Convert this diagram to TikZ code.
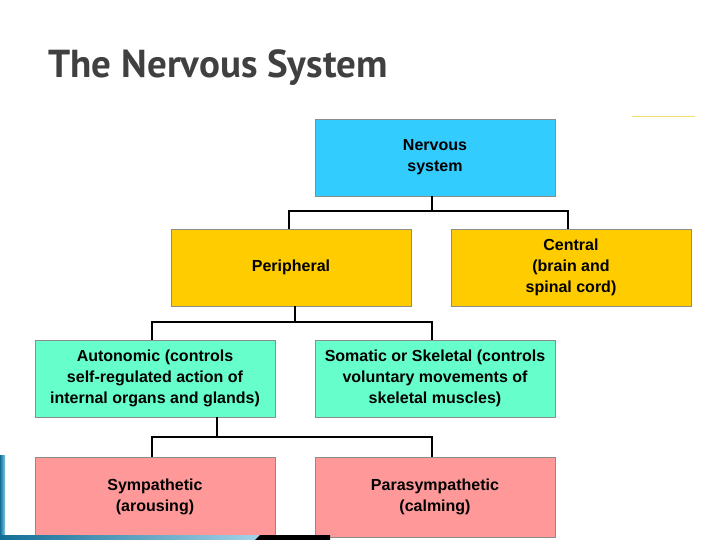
\documentclass[tikz,border=0pt]{standalone}
\usepackage{fontspec}
\setmainfont{Liberation Sans}
\newfontfamily\titlefont{PT Sans}
\begin{document}
\begin{tikzpicture}[x=1pt,y=-1pt,
 box/.style={draw=black!45,line width=0.6pt,minimum width=240pt,minimum height=77pt,align=center,font=\bfseries\fontsize{16}{21}\selectfont,inner sep=1pt},
 conn/.style={line width=2.2pt}]
\useasboundingbox (0,0) rectangle (720,540);
\fill[white] (0,0) rectangle (720,540);
\node[anchor=base west,font=\titlefont\bfseries\fontsize{39}{44}\selectfont,text=black!75] (t) at (45,78) {The Nervous System};
\draw[color=yellow!60!brown!60,line width=1pt] (632,117) -- (695,117);
\node[box,fill={rgb,255:red,51;green,204;blue,255}] (ns) at (435,157.5) {Nervous\\system};
\node[box,fill={rgb,255:red,255;green,204;blue,0}] (per) at (291,267.5) {Peripheral};
\node[box,fill={rgb,255:red,255;green,204;blue,0}] (cen) at (571,267.5) {Central\\(brain and\\spinal cord)};
\node[box,fill={rgb,255:red,102;green,255;blue,204}] (aut) at (155,378.5) {Autonomic (controls\\self-regulated action of\\internal organs and glands)};
\node[box,fill={rgb,255:red,102;green,255;blue,204}] (som) at (435,378.5) {Somatic or Skeletal (controls\\voluntary movements of\\skeletal muscles)};
\node[box,fill={rgb,255:red,255;green,153;blue,153},minimum height=80pt] (sym) at (155,497) {Sympathetic\\(arousing)};
\node[box,fill={rgb,255:red,255;green,153;blue,153},minimum height=80pt] (par) at (435,497) {Parasympathetic\\(calming)};
\draw[conn] (ns.south -| 432,0) -- (432,211) -| (per.north -| 289,0);
\draw[conn] (432,211) -| (cen.north -| 568,0);
\draw[conn] (per.south -| 295,0) -- (295,322) -| (aut.north -| 152,0);
\draw[conn] (295,322) -| (som.north -| 432,0);
\draw[conn] (aut.south -| 217,0) -- (217,437) -| (sym.north -| 152,0);
\draw[conn] (217,437) -| (par.north -| 432,0);
\fill[left color={rgb,255:red,20;green,110;blue,150},right color={rgb,255:red,130;green,200;blue,230}] (0,455) rectangle (5,540);
\fill[left color={rgb,255:red,20;green,110;blue,150},right color={rgb,255:red,170;green,215;blue,235}] (0,535) rectangle (270,540);
\fill[black] (260,535) -- (330,535) -- (330,540) -- (255,540) -- cycle;
\end{tikzpicture}
\end{document}
